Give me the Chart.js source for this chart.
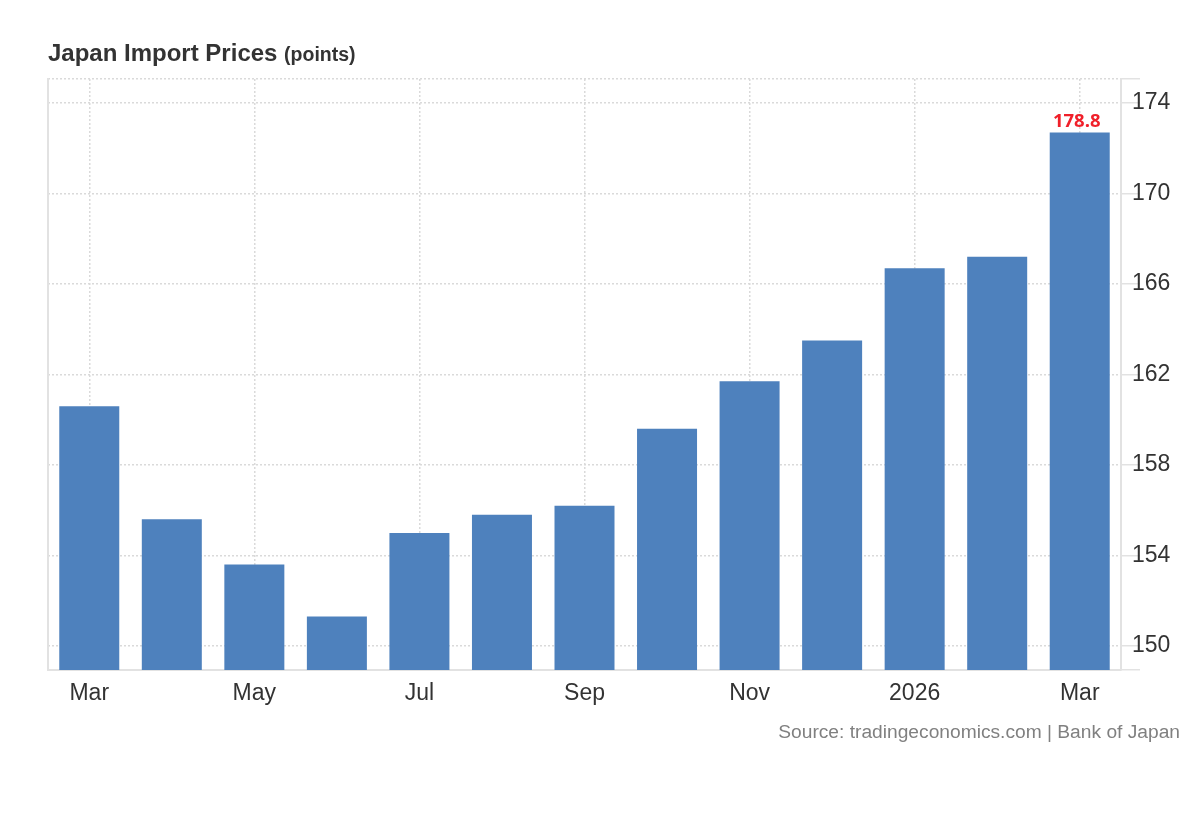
<!DOCTYPE html>
<html>
<head>
<meta charset="utf-8">
<script src="https://cdn.jsdelivr.net/npm/chart.js@4.4.1/dist/chart.umd.min.js"></script>
<style>
  body { margin: 0; background: #fff; }
  #wrap { position: relative; width: 1200px; height: 820px; }
  #title { position: absolute; left: 48px; top: 41px; font-family: "Liberation Sans", Arial, sans-serif;
           font-weight: bold; font-size: 24px; line-height: 24px; color: #333; white-space: nowrap; }
  #title span { font-size: 19.5px; }
  #source { position: absolute; right: 20px; top: 721px; font-family: "Liberation Sans", Arial, sans-serif;
            font-size: 19.2px; line-height: 22px; color: #808080; white-space: nowrap; }
  canvas { position: absolute; left: 0; top: 0; }
</style>
</head>
<body>
<div id="wrap">
  <canvas id="barchart" width="1200" height="820"></canvas>
  <div id="title">Japan Import Prices <span>(points)</span></div>
  <div id="source">Source: tradingeconomics.com | Bank of Japan</div>
</div>
<script>
// monthly import price index, Mar 2025 - Mar 2026
let months = ['Mar 2025', 'Apr 2025', 'May 2025', 'Jun 2025', 'Jul 2025', 'Aug 2025', 'Sep 2025',
              'Oct 2025', 'Nov 2025', 'Dec 2025', 'Jan 2026', 'Feb 2026', 'Mar 2026'];
let tickLabels = ['Mar', '', 'May', '', 'Jul', '', 'Sep', '', 'Nov', '', '2026', '', 'Mar'];
let prices = [160.6, 155.6, 153.6, 151.3, 155.0, 155.8, 156.2, 159.6, 161.7, 163.5, 166.7, 167.2, 172.7];
let yTicks = [150, 154, 158, 162, 166, 170, 174];
let lastLabel = '178.8';

let gridColor = '#dadada';
let axisColor = '#e2e2e2';

// red label over the latest bar
let lastValuePlugin = {
   id: 'lastValue',
   afterDatasetsDraw(chart) {
      let meta = chart.getDatasetMeta(0);
      let bar = meta.data[meta.data.length - 1];
      let ctx = chart.ctx;
      ctx.save();
      ctx.font = 'bold 18.5px "Open Sans", sans-serif';
      ctx.fillStyle = '#f0202a';
      ctx.textAlign = 'center';
      ctx.textBaseline = 'bottom';
      ctx.fillText(lastLabel, bar.x - 3, bar.y - 1);
      ctx.restore();
   }
};

new Chart(document.getElementById('barchart'), {
   type: 'bar',
   data: {
      labels: months,
      datasets: [{
         data: prices,
         backgroundColor: '#4e81bd',
         borderWidth: 0,
         barPercentage: 0.727,
         categoryPercentage: 1.0,
         yAxisID: 'y'
      }]
   },
   options: {
      responsive: false,
      animation: false,
      layout: { padding: { left: 48, top: 79, right: 0, bottom: 0 } },
      plugins: { legend: { display: false }, tooltip: { enabled: false } },
      scales: {
         x: {
            offset: true,
            afterFit: function(scale) { scale.height = 150; },
            border: { display: true, color: axisColor, width: 2, dash: [2, 2] },
            grid: {
               offset: false,
               drawTicks: false,
               lineWidth: 1.5,
               color: function(c) { return c.index % 2 === 0 ? gridColor : 'rgba(0,0,0,0)'; }
            },
            ticks: {
               autoSkip: false,
               maxRotation: 0,
               padding: 10,
               color: '#333',
               font: { family: '"Liberation Sans", Arial, sans-serif', size: 23 },
               callback: function(v, i) { return tickLabels[i]; }
            }
         },
         y: {
            position: 'right',
            min: 148.94,
            max: 175.06,
            afterFit: function(scale) { scale.width = 79; },
            afterBuildTicks: function(scale) {
               let t = [{ value: 148.94 }];
               yTicks.forEach(function(v) { t.push({ value: v }); });
               t.push({ value: 175.06 });
               scale.ticks = t;
            },
            border: { display: true, color: axisColor, width: 2, dash: [2, 2] },
            grid: {
               color: gridColor,
               lineWidth: 1.5,
               tickLength: 19,
               tickColor: axisColor,
               tickWidth: 1.5,
               tickBorderDash: []
            },
            ticks: {
               padding: -8,
               color: '#333',
               font: { family: '"Liberation Sans", Arial, sans-serif', size: 23 },
               callback: function(v) { return yTicks.indexOf(v) >= 0 ? v : ''; }
            }
         },
         yLeft: {
            position: 'left',
            afterFit: function(scale) { scale.width = 0; },
            border: { display: true, color: axisColor, width: 2 },
            grid: { display: false },
            ticks: { display: false }
         }
      }
   },
   plugins: [lastValuePlugin]
});
</script>
</body>
</html>
